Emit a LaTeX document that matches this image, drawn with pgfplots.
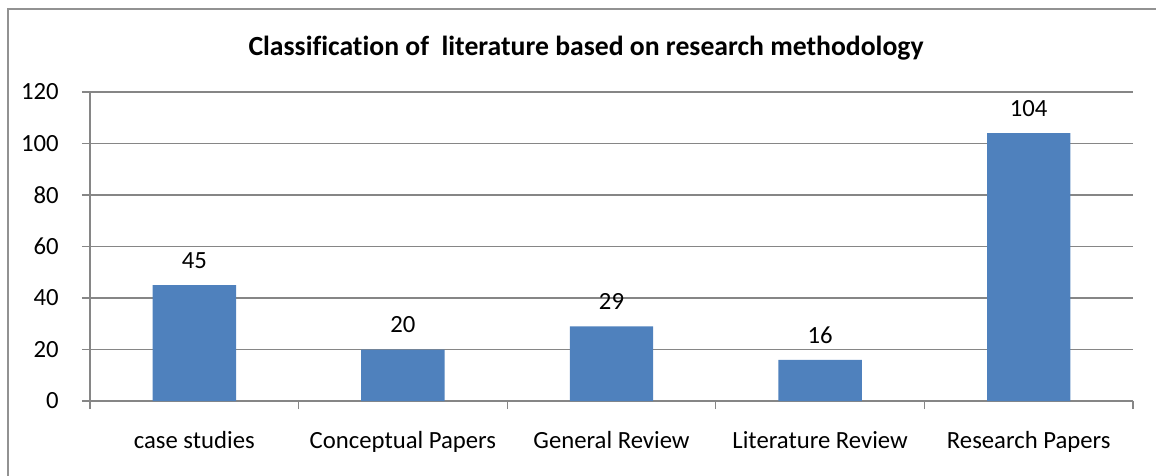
\documentclass[border=0pt]{standalone}
\usepackage{pgfplots}
\pgfplotsset{compat=1.18}
\usepackage{fontspec}
\setmainfont{Carlito}[Ligatures=NoCommon]
\definecolor{barblue}{HTML}{4F81BD}
\definecolor{gridgray}{HTML}{868686}
\begin{document}
\begin{tikzpicture}[x=1bp,y=1bp]
\clip (0,0) rectangle (578,237.5);
\draw[gridgray!90, line width=1.1bp] (4,-10) rectangle (600,233);
\node[font=\fontsize{13.9}{16}\selectfont\bfseries] at (293,213.5) {Classification of \ literature based on research methodology};
\begin{axis}[
  at={(45bp,37bp)}, anchor=south west,
  scale only axis,
  width=521.5bp, height=154.5bp,
  xmin=-0.5, xmax=4.5,
  ymin=0, ymax=120,
  axis x line*=bottom, axis y line*=left,
  axis line style={gridgray, line width=0.6bp},
  ytick={0,20,...,120},
  xtick={0,1,2,3,4},
  xticklabels={case studies,Conceptual Papers,General Review,Literature Review,Research Papers},
  minor xtick={-0.5,0.5,1.5,2.5,3.5,4.5},
  major x tick style={draw=none},
  minor x tick style={gridgray, line width=0.6bp},
  y tick style={gridgray, line width=0.6bp},
  tick align=outside,
  major tick length=4bp, minor tick length=4bp,
  ymajorgrids,
  grid style={gridgray, line width=0.6bp},
  tick label style={font=\fontsize{12.4}{14}\selectfont, text=black},
  /pgf/number format/assume math mode=true,
  yticklabel style={anchor=east, inner sep=0pt},
  yticklabel shift=11.5bp,
  xticklabel style={anchor=north, inner sep=0pt},
  xticklabel shift=11bp,
  ybar, bar width=0.4,
  nodes near coords,
  nodes near coords style={font=\fontsize{12.4}{14}\selectfont, text=black, anchor=south, inner sep=0pt, yshift=8bp},
  clip=false,
]
\addplot[fill=barblue, draw=none] coordinates {(0,45) (1,20) (2,29) (3,16) (4,104)};
\end{axis}
\end{tikzpicture}
\end{document}
